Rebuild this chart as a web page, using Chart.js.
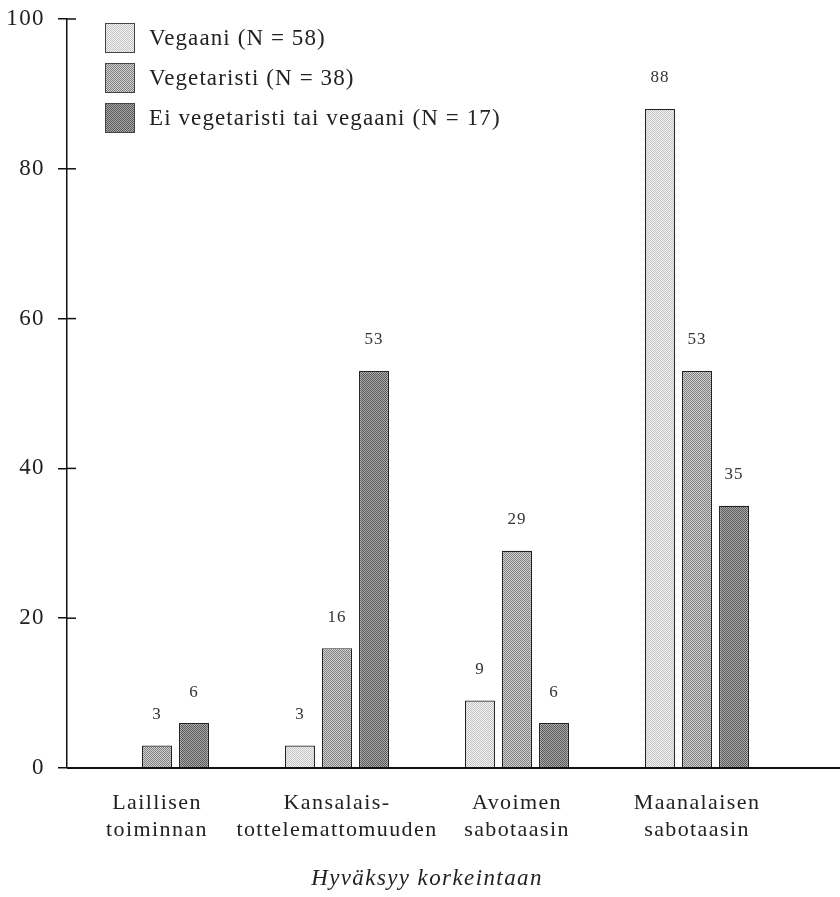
<!DOCTYPE html>
<html>
<head>
<meta charset="utf-8">
<script src="https://cdn.jsdelivr.net/npm/chart.js@4.4.1/dist/chart.umd.min.js"></script>
<style>
  html, body { margin: 0; padding: 0; background: #fff; }
  #wrap { position: relative; width: 840px; height: 897px; }
  #legend { position: absolute; left: 105px; top: 18px; font-family: "Liberation Serif", serif; font-size: 23px; letter-spacing: 1.1px; color: #222; }
  .item { display: flex; align-items: center; height: 40px; }
  .sw { width: 30px; height: 30px; border: 1px solid #444; margin-right: 14px; box-sizing: border-box; }
</style>
</head>
<body>
<div id="wrap">
  <canvas id="c" width="840" height="897"></canvas>
  <div id="legend"></div>
</div>
<script>
const categories = [["Laillisen", "toiminnan"], ["Kansalais-", "tottelemattomuuden"], ["Avoimen", "sabotaasin"], ["Maanalaisen", "sabotaasin"]];
const seriesNames = ["Vegaani (N = 58)", "Vegetaristi (N = 38)", "Ei vegetaristi tai vegaani (N = 17)"];
const vegaani = [0, 3, 9, 88];
const vegetaristi = [3, 16, 29, 53];
const eiVegetaristi = [6, 53, 6, 35];
const yTicks = [0, 20, 40, 60, 80, 100];
const xTitle = "Hyväksyy korkeintaan";

const tileColors = [['#f2f2f2', '#c4c4c4'], ['#d0d0d0', '#808080'], ['#a8a8a8', '#5a5a5a']];
function makeTile(a, b) {
  const t = document.createElement('canvas');
  t.width = 2; t.height = 2;
  const g = t.getContext('2d');
  g.fillStyle = a; g.fillRect(0, 0, 2, 2);
  g.fillStyle = b; g.fillRect(0, 0, 1, 1); g.fillRect(1, 1, 1, 1);
  return t;
}
const tiles = tileColors.map(c => makeTile(c[0], c[1]));
const canvas = document.getElementById('c');
const ctx0 = canvas.getContext('2d');
const fills = tiles.map(t => ctx0.createPattern(t, 'repeat'));

const serif = '"Liberation Serif", "DejaVu Serif", serif';
const SPACING = '1.4px';

const spacingPlugin = {
  id: 'spacing',
  beforeUpdate(chart) { chart.ctx.letterSpacing = SPACING; },
  beforeLayout(chart) { chart.ctx.letterSpacing = SPACING; },
  beforeDraw(chart) { chart.ctx.letterSpacing = SPACING; }
};

const valueLabels = {
  id: 'valueLabels',
  afterDatasetsDraw(chart) {
    const ctx = chart.ctx;
    ctx.save();
    ctx.letterSpacing = '1px';
    ctx.font = '17px ' + serif;
    ctx.fillStyle = '#333';
    ctx.textAlign = 'center';
    ctx.textBaseline = 'middle';
    chart.data.datasets.forEach((ds, di) => {
      const meta = chart.getDatasetMeta(di);
      meta.data.forEach((bar, i) => {
        const v = ds.data[i];
        if (!v) return;
        ctx.fillText(String(v), bar.x, bar.y - 31);
      });
    });
    ctx.restore();
  }
};

const axisExtras = {
  id: 'axisExtras',
  afterDraw(chart) {
    const ctx = chart.ctx;
    const y = chart.scales.y;
    const x0 = chart.chartArea.left;
    ctx.save();
    ctx.strokeStyle = '#111';
    ctx.lineWidth = 1.5;
    y.ticks.forEach(t => {
      const py = y.getPixelForValue(t.value);
      if (t.value === 0) return;
      ctx.beginPath(); ctx.moveTo(x0, py); ctx.lineTo(x0 + 9, py); ctx.stroke();
    });
    const py0 = y.getPixelForValue(0);
    ctx.lineWidth = 2;
    ctx.beginPath(); ctx.moveTo(x0, py0); ctx.lineTo(chart.width, py0); ctx.stroke();
    ctx.restore();
  }
};

const datasets = [vegaani, vegetaristi, eiVegetaristi].map((d, i) => ({
  label: seriesNames[i],
  data: d,
  backgroundColor: fills[i],
  borderColor: '#222',
  borderWidth: 1.2,
  categoryPercentage: 0.617,
  barPercentage: 0.81
}));

const chart = new Chart(canvas, {
  type: 'bar',
  data: { labels: categories, datasets },
  options: {
    responsive: false,
    animation: false,
    layout: { padding: { left: 0, right: 53, top: 19, bottom: 0 } },
    plugins: { legend: { display: false }, tooltip: { enabled: false } },
    scales: {
      y: {
        min: 0, max: 100,
        afterBuildTicks(s) { s.ticks = yTicks.map(v => ({ value: v })); },
        afterFit(s) { s.width = 67; s.paddingTop = 0; s.paddingBottom = 0; },
        border: { display: true, color: '#111', width: 1.5 },
        grid: { display: true, drawOnChartArea: false, drawTicks: true, tickLength: 9, color: '#111', lineWidth: 1.5 },
        ticks: { font: { family: serif, size: 23 }, color: '#222', padding: 13 }
      },
      x: {
        afterFit(s) { s.height = 129; s.paddingLeft = 0; s.paddingRight = 0; },
        border: { display: false },
        grid: { display: false },
        ticks: { font: { family: serif, size: 22, lineHeight: 1.23 }, color: '#222', padding: 14, maxRotation: 0, autoSkip: false },
        title: { display: true, text: xTitle, font: { family: serif, size: 23, style: 'italic' }, color: '#222', padding: { top: 21 } }
      }
    }
  },
  plugins: [spacingPlugin, valueLabels, axisExtras]
});

const leg = document.getElementById('legend');
seriesNames.forEach((n, i) => {
  const it = document.createElement('div'); it.className = 'item';
  const sw = document.createElement('div'); sw.className = 'sw';
  sw.style.backgroundImage = 'url(' + tiles[i].toDataURL() + ')';
  sw.style.imageRendering = 'pixelated';
  const tx = document.createElement('span'); tx.textContent = n;
  it.appendChild(sw); it.appendChild(tx); leg.appendChild(it);
});
</script>
</body>
</html>
